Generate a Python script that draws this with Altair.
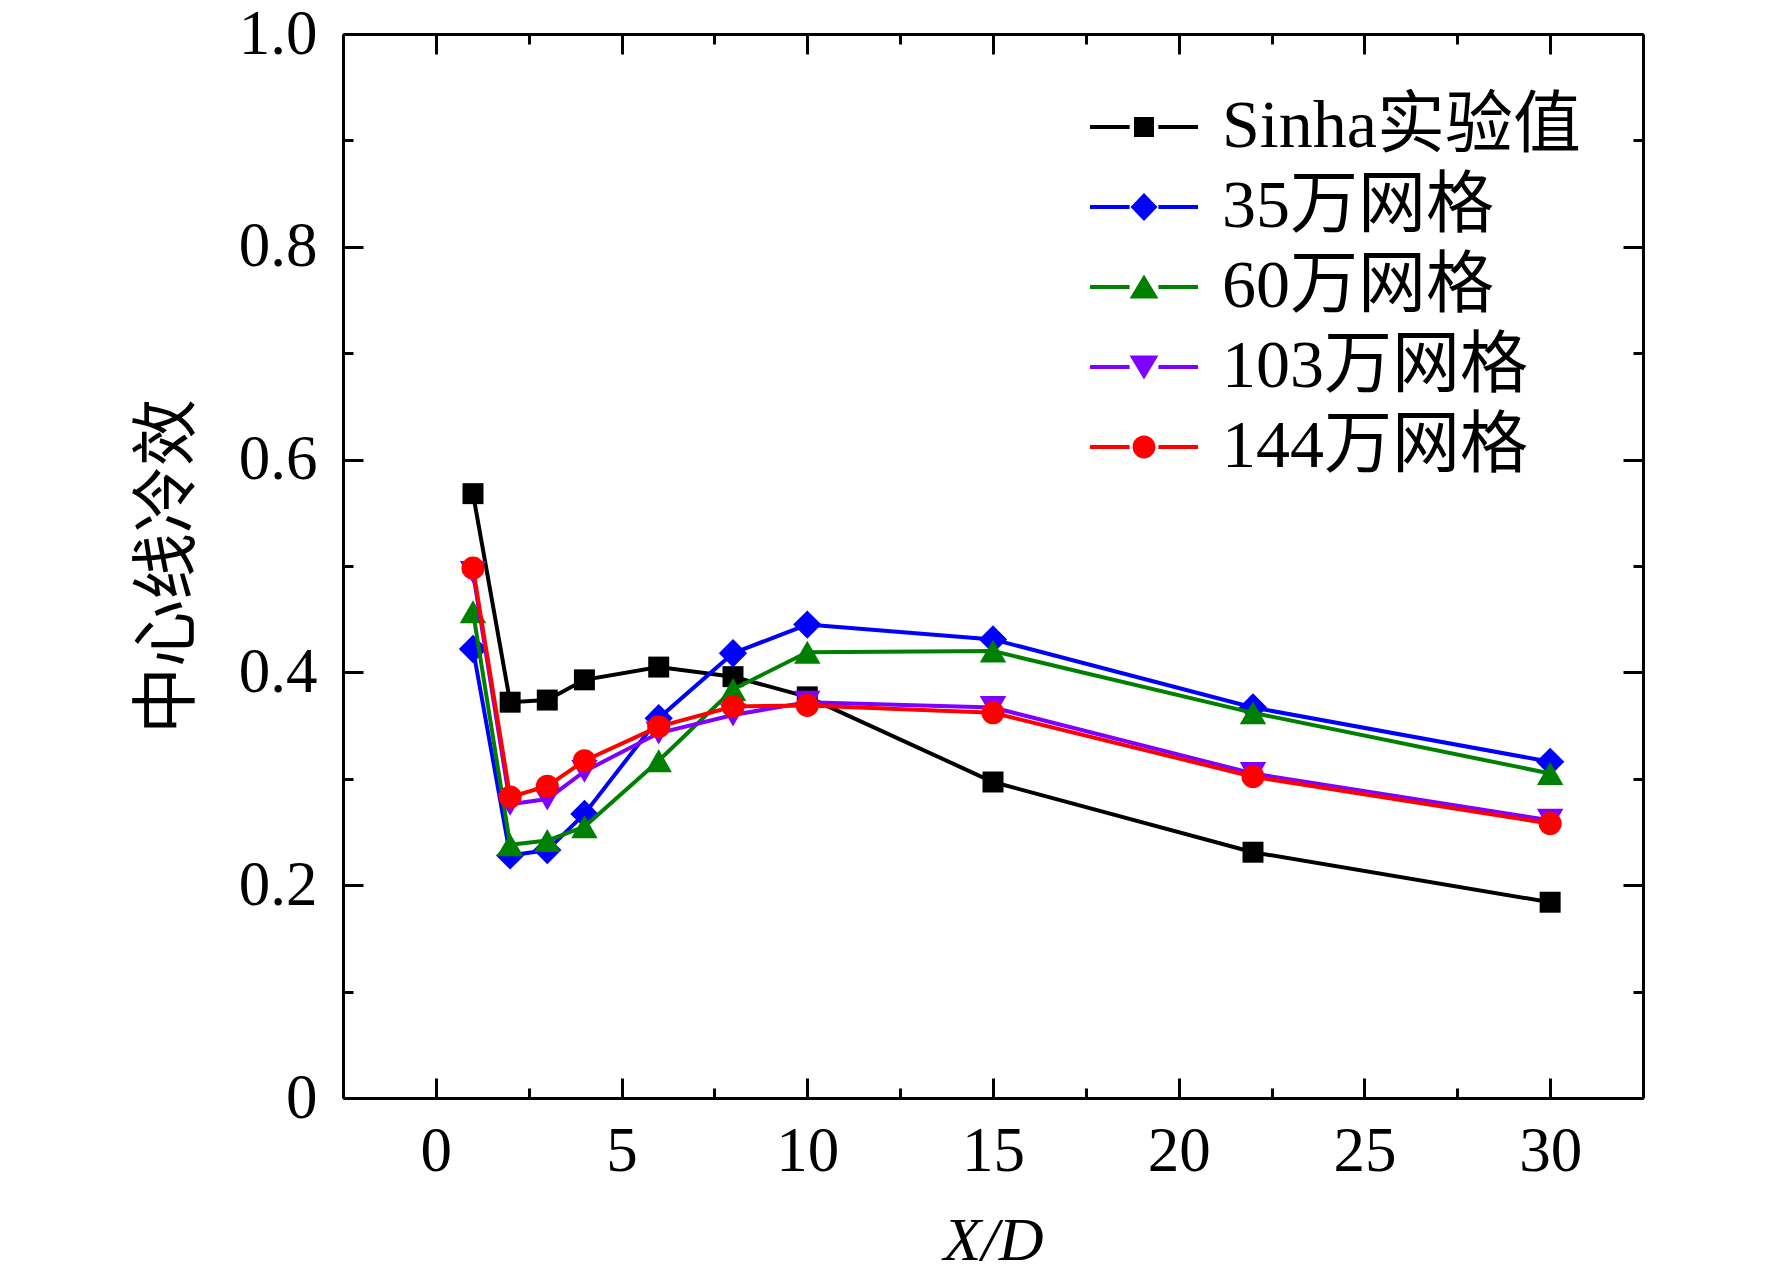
import altair as alt
import pandas as pd

# ---------------- data ----------------
x_over_d = [1, 2, 3, 4, 6, 8, 10, 15, 22, 30]
series_names = ["Sinha实验值", "35万网格", "60万网格", "103万网格", "144万网格"]
sinha = [0.568, 0.372, 0.374, 0.393, 0.405, 0.396, 0.377, 0.297, 0.231, 0.184]
mesh35 = [0.422, 0.228, 0.233, 0.267, 0.357, 0.418, 0.445, 0.431, 0.367, 0.316]
mesh60 = [0.457, 0.238, 0.242, 0.255, 0.317, 0.384, 0.419, 0.420, 0.362, 0.305]
mesh103 = [0.494, 0.276, 0.281, 0.307, 0.343, 0.360, 0.372, 0.367, 0.305, 0.261]
mesh144 = [0.498, 0.283, 0.293, 0.317, 0.349, 0.368, 0.369, 0.362, 0.302, 0.258]

x_tick_values = [0, 2.5, 5, 7.5, 10, 12.5, 15, 17.5, 20, 22.5, 25, 27.5, 30]
y_tick_values = [0, 0.1, 0.2, 0.3, 0.4, 0.5, 0.6, 0.7, 0.8, 0.9, 1.0]

# ---------------- styles ----------------
series_colors = ["#000000", "#0000FF", "#008000", "#7F00FF", "#FF0000"]
marker_shapes = ["square", "diamond", "triangle-up", "triangle-down", "circle"]
marker_sizes = [440, 800, 700, 700, 530]

seg = "M-1.8,-0.065H-0.48V0.065H-1.8Z M0.48,-0.065H1.8V0.065H0.48Z "
legend_paths = [
    seg + "M-0.333,-0.333H0.333V0.333H-0.333Z",
    seg + "M0,-0.47L0.45,0L0,0.47L-0.45,0Z",
    seg + "M0,-0.42L0.48,0.38L-0.48,0.38Z",
    seg + "M-0.48,-0.38L0.48,-0.38L0,0.42Z",
    seg + "M-0.38,0A0.38,0.38 0 1,1 0.38,0A0.38,0.38 0 1,1 -0.38,0Z",
]

serif = "Liberation Serif"
cjk = "Noto Sans CJK SC"
mixed = "Liberation Serif, Noto Sans CJK SC"

rows = []
for name, vals in zip(series_names, [sinha, mesh35, mesh60, mesh103, mesh144]):
    for xv, v in zip(x_over_d, vals):
        rows.append({"x": xv, "eff": v, "series": name})
df = pd.DataFrame(rows)

xscale = alt.Scale(domain=[-2.5, 32.5], nice=False, zero=False)
yscale = alt.Scale(domain=[0, 1], nice=False, zero=False)

x_major = "datum.value % 5 === 0"
y_major = "round(datum.value * 10) % 2 === 0"

common_axis = dict(
    grid=False,
    domainColor="black",
    domainWidth=3,
    tickColor="black",
    tickWidth=3,
    labelColor="black",
    labelFlush=False,
    labelOverlap=False,
)

x_bottom = alt.Axis(
    orient="bottom",
    values=x_tick_values,
    tickSize={"expr": f"{x_major} ? -20 : -10"},
    labelExpr=f"{x_major} ? datum.label : ''",
    labelFont=serif,
    labelFontSize=63,
    labelPadding=42,
    title="X/D",
    titleFont=serif,
    titleFontSize=62,
    titleFontStyle="italic",
    titleFontWeight="normal",
    titleColor="black",
    titlePadding=17,
    **common_axis,
)
x_top = alt.Axis(
    orient="top",
    values=x_tick_values,
    tickSize={"expr": f"{x_major} ? -20 : -10"},
    labels=False,
    title=None,
    **common_axis,
)
y_left = alt.Axis(
    orient="left",
    values=y_tick_values,
    tickSize={"expr": f"{y_major} ? -20 : -10"},
    labelExpr=f"{y_major} ? (datum.value === 0 ? '0' : format(datum.value, '.1f')) : ''",
    labelFont=serif,
    labelFontSize=63,
    labelPadding=46,
    title="中心线冷效",
    titleFont=cjk,
    titleFontSize=67,
    titleFontWeight="normal",
    titleColor="black",
    titlePadding=36,
    **common_axis,
)
y_right = alt.Axis(
    orient="right",
    values=y_tick_values,
    tickSize={"expr": f"{y_major} ? -20 : -10"},
    labels=False,
    title=None,
    **common_axis,
)

base = alt.Chart(df)

series_layers = []
for i, name in enumerate(series_names):
    sub = base.transform_filter(alt.datum.series == name)
    line = sub.mark_line(strokeWidth=4, color=series_colors[i]).encode(
        x=alt.X("x:Q", scale=xscale, axis=x_bottom if i == 0 else None),
        y=alt.Y("eff:Q", scale=yscale, axis=y_left if i == 0 else None),
    )
    pts = sub.mark_point(
        filled=True,
        shape=marker_shapes[i],
        size=marker_sizes[i],
        color=series_colors[i],
        opacity=1,
        strokeWidth=0,
    ).encode(
        x=alt.X("x:Q", scale=xscale, axis=x_top if i == 0 else None),
        y=alt.Y("eff:Q", scale=yscale, axis=y_right if i == 0 else None),
    )
    series_layers.extend([line, pts])

legend_props = dict(
    title=None,
    orient="none",
    legendX=767,
    legendY=59,
    padding=0,
    rowPadding=12,
    labelOffset=44,
    symbolSize=3600,
    symbolStrokeWidth=0,
    symbolOpacity=1,
    labelFont=mixed,
    labelFontSize=68,
    labelColor="black",
    labelLimit=1000,
)

legend_layer = (
    base.transform_filter("false")
    .mark_point(filled=True, opacity=1, strokeWidth=0)
    .encode(
        x=alt.X("x:Q", scale=xscale, axis=None),
        y=alt.Y("eff:Q", scale=yscale, axis=None),
        color=alt.Color(
            "series:N",
            scale=alt.Scale(domain=series_names, range=series_colors),
            legend=alt.Legend(**legend_props),
        ),
        shape=alt.Shape(
            "series:N",
            scale=alt.Scale(domain=series_names, range=legend_paths),
            legend=alt.Legend(**legend_props),
        ),
    )
)

chart = (
    alt.layer(*series_layers, legend_layer)
    .resolve_axis(x="independent", y="independent")
    .properties(
        width=1300,
        height=1064,
        padding={"left": 335, "top": 26, "right": 121, "bottom": 179},
        autosize=alt.AutoSizeParams(type="none"),
        background="white",
    )
    .configure_view(stroke=None)
)

chart.save("out.html", embed_options={"renderer": "svg", "actions": False})
